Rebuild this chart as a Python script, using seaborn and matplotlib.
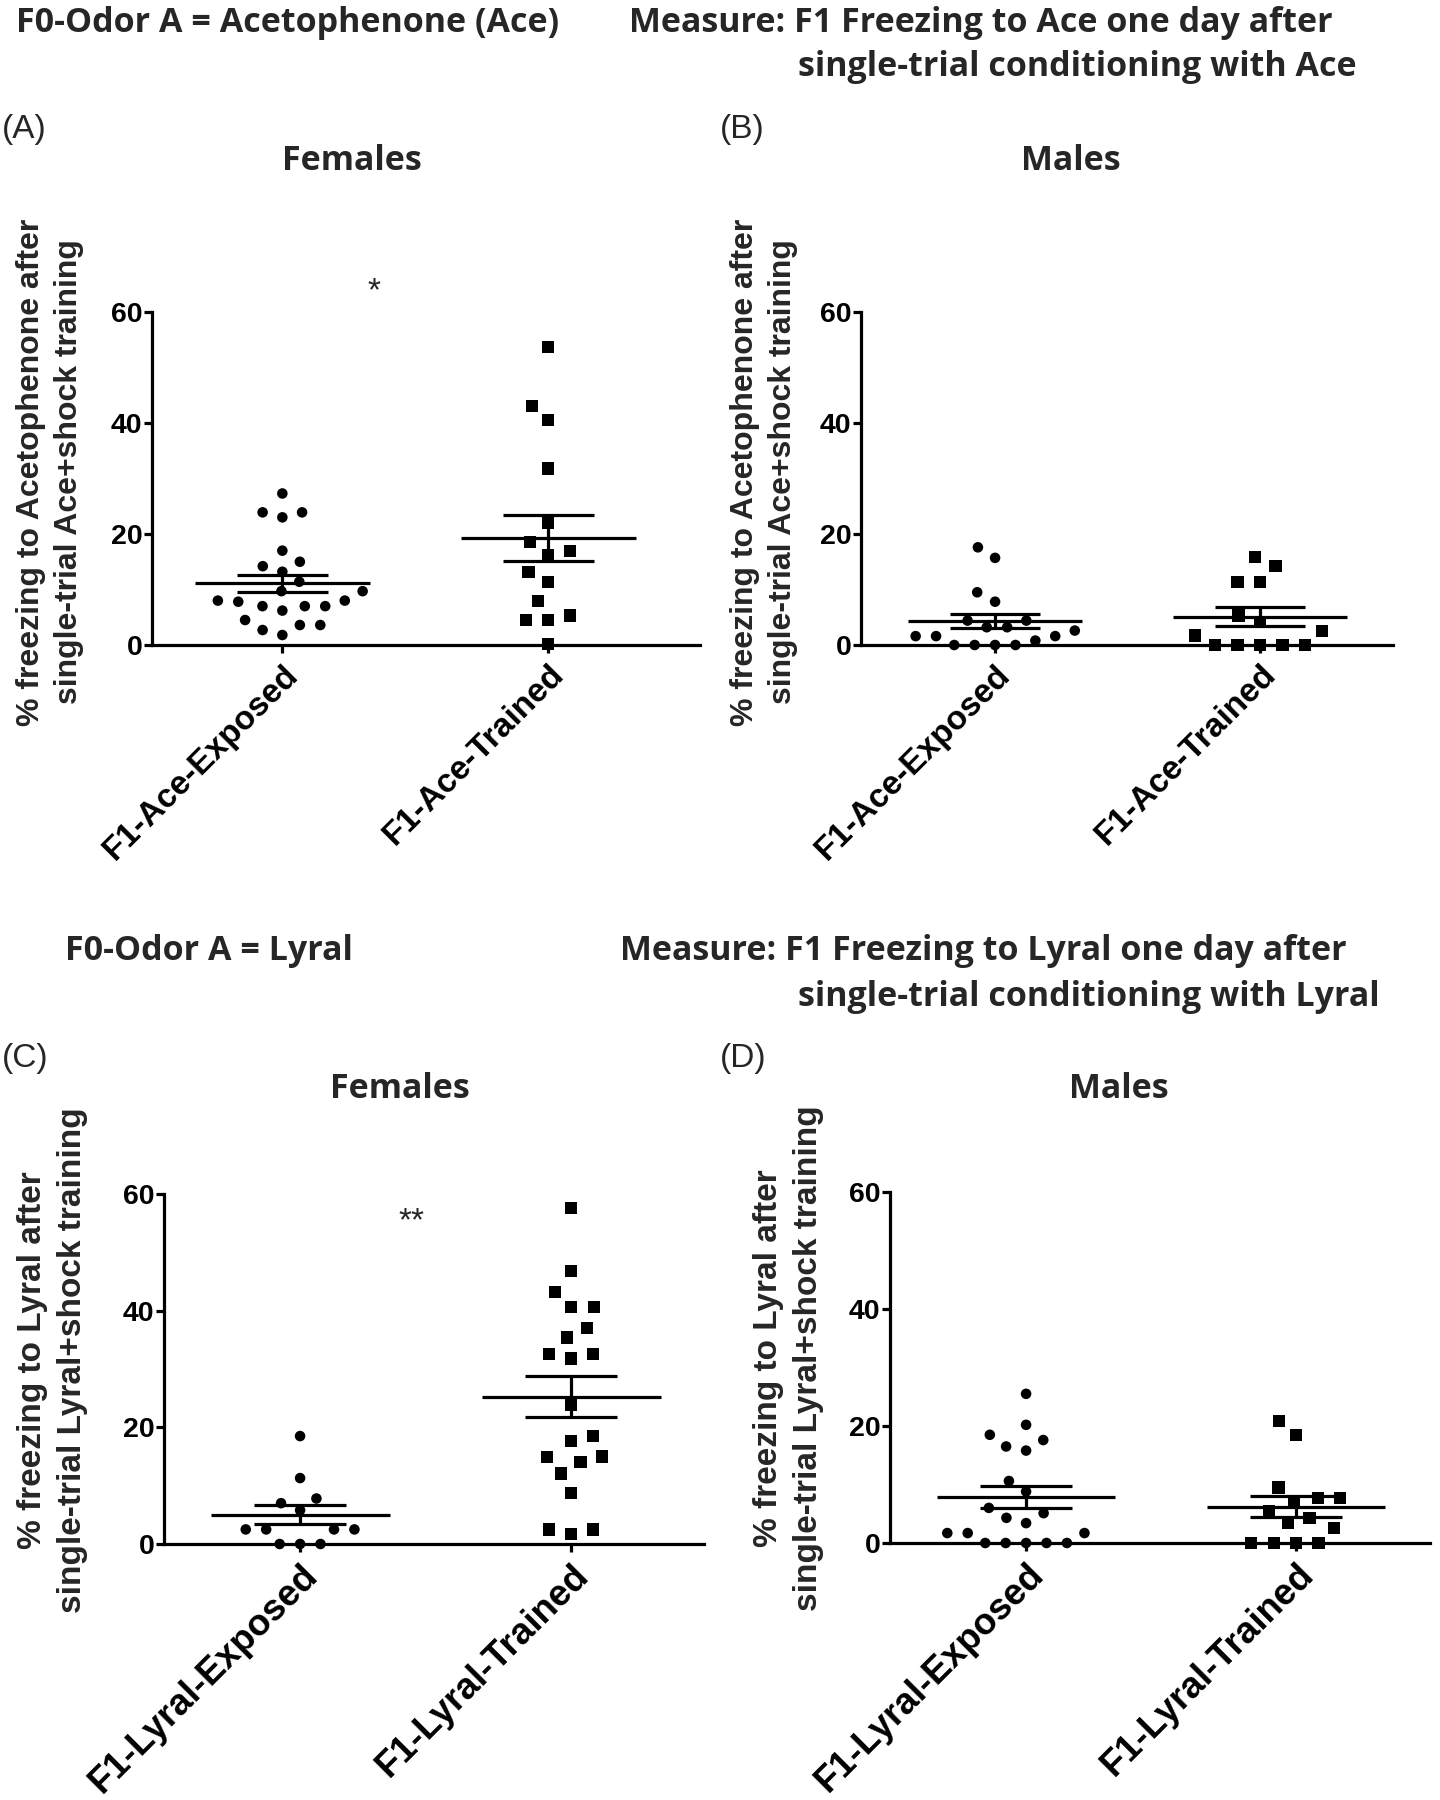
import numpy as np
import pandas as pd
import matplotlib
matplotlib.use("Agg")
import matplotlib.pyplot as plt
import seaborn as sns

# ---------------- data ----------------
ace_cats = ["F1-Ace-Exposed", "F1-Ace-Trained"]
lyr_cats = ["F1-Lyral-Exposed", "F1-Lyral-Trained"]

ace_f_exposed = [27.3, 23.9, 23.9, 23.0, 17.0, 15.0, 14.2, 13.2, 11.4, 9.7, 9.7, 8.0,
                 8.0, 7.8, 7.0, 7.0, 7.0, 6.2, 4.5, 3.6, 3.6, 2.7, 1.8]
ace_f_trained = [53.7, 43.1, 40.5, 31.8, 22.0, 18.5, 17.0, 16.2, 13.2, 11.4, 7.9, 5.3,
                 4.5, 4.5, 0.2]
ace_m_exposed = [17.6, 15.7, 9.5, 7.8, 4.4, 4.4, 3.2, 3.2, 2.6, 1.6, 1.6, 1.6, 0.8,
                 0.0, 0.0, 0.0, 0.0]
ace_m_trained = [15.8, 14.2, 11.4, 11.4, 5.3, 4.2, 2.5, 1.7, 0.0, 0.0, 0.0, 0.0, 0.0]
lyr_f_exposed = [18.5, 11.3, 7.8, 7.0, 5.8, 2.5, 2.5, 2.5, 2.5, 0.0, 0.0, 0.0]
lyr_f_trained = [57.6, 46.8, 43.2, 40.6, 40.6, 37.0, 35.4, 32.6, 32.6, 31.8, 23.8, 18.5,
                 17.6, 15.0, 14.9, 14.0, 12.1, 8.8, 2.5, 2.5, 1.7]
lyr_m_exposed = [25.5, 20.2, 18.5, 17.6, 16.5, 15.8, 10.6, 8.8, 6.0, 5.1, 4.3, 3.4, 1.7,
                 1.7, 1.7, 0.0, 0.0, 0.0, 0.0, 0.0]
lyr_m_trained = [20.9, 18.5, 9.5, 7.7, 7.7, 6.9, 5.4, 4.3, 3.4, 2.6, 0.0, 0.0, 0.0, 0.0]

y_ticks = [0, 20, 40, 60]

# ---------------- style ----------------
sns.set_style("ticks")
plt.rcParams["font.family"] = ["Liberation Sans", "DejaVu Sans"]

HEAD_FONT = ["Open Sans", "DejaVu Sans"]
LW = 2.3

fig = plt.figure(figsize=(14.4, 18), dpi=100)

def px_rect(left, right, top, bottom):
    W, H = 1440.0, 1800.0
    return [left / W, 1 - bottom / H, (right - left) / W, (bottom - top) / H]

axA = fig.add_axes(px_rect(152, 700, 312, 645))
axB = fig.add_axes(px_rect(861, 1393, 312, 645))
axC = fig.add_axes(px_rect(164, 704, 1194, 1544))
axD = fig.add_axes(px_rect(890, 1430, 1192, 1543))


def panel(ax, cats, exposed, trained, xlim, xfs):
    df_e = pd.DataFrame({"group": cats[0], "value": exposed})
    df_t = pd.DataFrame({"group": cats[1], "value": trained})
    sns.swarmplot(data=df_e, x="group", y="value", order=cats, marker="o", size=7.6,
                  color="black", linewidth=0, ax=ax, zorder=3)
    n0 = len(ax.collections)
    sns.swarmplot(data=df_t, x="group", y="value", order=cats, marker="s", size=8.8,
                  color="black", linewidth=0, ax=ax, zorder=3)
    # invisible edge widths widen the swarm spacing (GraphPad-like gaps)
    for k, coll in enumerate(ax.collections):
        if len(coll.get_offsets()) == 0:
            coll.set_visible(False)
            continue
        coll.set_clip_on(False)
        coll.set_edgecolor("none")
        coll.set_linewidth(6.4 if k < n0 else 6.6)
    for i, vals in enumerate([exposed, trained]):
        v = np.asarray(vals, dtype=float)
        m = v.mean()
        se = v.std(ddof=1) / np.sqrt(len(v))
        ax.hlines(m, i - 0.33, i + 0.33, color="black", lw=LW, zorder=4, clip_on=False)
        ax.hlines([m - se, m + se], i - 0.17, i + 0.17, color="black", lw=LW, zorder=4,
                  clip_on=False)
        ax.vlines(i, m - se, m + se, color="black", lw=LW, zorder=4, clip_on=False)
    ax.set_xlim(*xlim)
    ax.set_ylim(0, 60)
    ax.set_yticks(y_ticks)
    ax.set_yticklabels([str(t) for t in y_ticks], fontsize=20.5, fontweight="bold")
    ax.set_xticks([0, 1])
    ax.set_xticklabels(cats, fontsize=xfs, fontweight="bold", rotation=45, ha="right",
                       rotation_mode="anchor")
    ax.set_xlabel("")
    ax.set_ylabel("")
    for s in ["top", "right"]:
        ax.spines[s].set_visible(False)
    for s in ["left", "bottom"]:
        ax.spines[s].set_linewidth(LW)
        ax.spines[s].set_color("black")
    ax.tick_params(axis="both", direction="out", length=6, width=LW, color="black",
                   labelcolor="black")
    ax.tick_params(axis="y", pad=0.8)
    ax.tick_params(axis="x", pad=4)
    ax.set_facecolor("white")


panel(axA, ace_cats, ace_f_exposed, ace_f_trained, (-0.49, 1.57), 24)
panel(axB, ace_cats, ace_m_exposed, ace_m_trained, (-0.506, 1.502), 24)
panel(axC, lyr_cats, lyr_f_exposed, lyr_f_trained, (-0.502, 1.49), 26.5)
panel(axD, lyr_cats, lyr_m_exposed, lyr_m_trained, (-0.504, 1.496), 26.5)

# significance marks
axA.text(0.346, 62.2, "*", fontsize=24, ha="center", va="baseline")
axC.text(0.41, 53.8, "**", fontsize=24, ha="center", va="baseline")

# y labels
ace_ylabel = "% freezing to Acetophenone after\nsingle-trial Ace+shock training"
lyr_ylabel = "% freezing to Lyral after\nsingle-trial Lyral+shock training"
for (x, y, lab, fs) in [(0.0345, 0.7378, ace_ylabel, 23), (0.5305, 0.7378, ace_ylabel, 23),
                        (0.0365, 0.2444, lyr_ylabel, 24), (0.5475, 0.2456, lyr_ylabel, 24)]:
    fig.text(x, y, lab, rotation=90, ha="center", va="center", fontsize=fs,
             fontweight="bold", multialignment="center", linespacing=1.35)

# header texts
def head(x, y, s, ha="left"):
    fig.text(x, y, s, ha=ha, va="center", fontsize=24.5, fontweight="bold",
             family=HEAD_FONT)

head(0.011, 0.9872, "F0-Odor A = Acetophenone (Ace)")
head(0.4368, 0.9872, "Measure: F1 Freezing to Ace one day after")
head(0.554, 0.9628, "single-trial conditioning with Ace")
head(0.2444, 0.9106, "Females", ha="center")
head(0.7438, 0.9106, "Males", ha="center")

head(0.0451, 0.4717, "F0-Odor A = Lyral")
head(0.4306, 0.4717, "Measure: F1 Freezing to Lyral one day after")
head(0.554, 0.4461, "single-trial conditioning with Lyral")
head(0.2778, 0.395, "Females", ha="center")
head(0.7771, 0.395, "Males", ha="center")

for (x, y, s) in [(0.0014, 0.9278, "(A)"), (0.5, 0.9278, "(B)"),
                  (0.0014, 0.4117, "(C)"), (0.5, 0.4117, "(D)")]:
    fig.text(x, y, s, ha="left", va="center", fontsize=24)

fig.savefig("out.png", dpi=100, facecolor="white")
